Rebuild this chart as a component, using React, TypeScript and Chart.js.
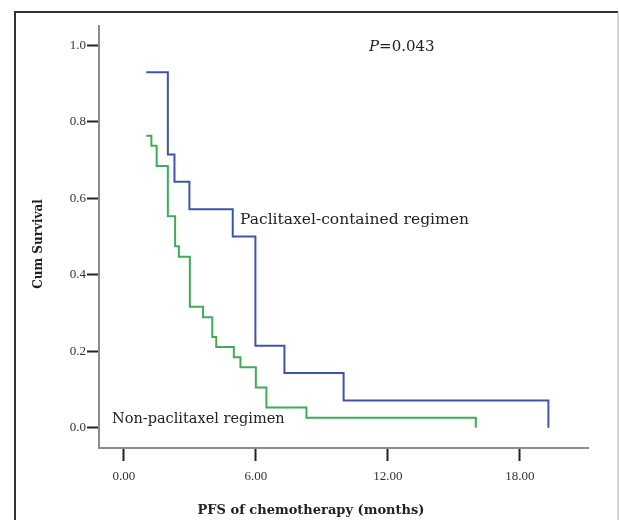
import React, { useEffect, useRef } from "react";
import { Chart, registerables } from "chart.js";

Chart.register(...registerables);

// ---- data ----
const paclitaxelTimes = [1.02, 2.0, 2.3, 2.98, 4.95, 5.98, 7.3, 9.99, 19.3];
const paclitaxelSurvival = [0.929, 0.714, 0.643, 0.571, 0.5, 0.214, 0.143, 0.071, 0.0];
const nonPaclitaxelTimes = [1.02, 1.25, 1.49, 2.0, 2.33, 2.5, 3.0, 3.6, 4.02, 4.2, 5.0, 5.3, 6.0, 6.48, 8.3, 16.0];
const nonPaclitaxelSurvival = [0.763, 0.737, 0.684, 0.553, 0.474, 0.447, 0.316, 0.289, 0.237, 0.211, 0.184, 0.158, 0.105, 0.053, 0.026, 0.0];
const xTickValues = [0, 6, 12, 18];
const yTickValues = [0, 0.2, 0.4, 0.6, 0.8, 1.0];
const seriesLabels = ["Paclitaxel-contained regimen", "Non-paclitaxel regimen"];
const pValueText = "=0.043";
const xTitle = "PFS of chemotherapy (months)";
const yTitle = "Cum Survival";

const SERIF = "'DejaVu Serif', 'Liberation Serif', serif";
const TICKFONT = "'Liberation Serif', serif";

const annotationPlugin = {
  id: "kmAnnotations",
  beforeDraw(chart: any) {
    const ctx = chart.ctx;
    ctx.save();
    ctx.fillStyle = "#ffffff";
    ctx.fillRect(0, 0, chart.width, chart.height);
    // frame
    ctx.strokeStyle = "#333";
    ctx.lineWidth = 2;
    ctx.beginPath();
    ctx.moveTo(15, 530);
    ctx.lineTo(15, 12);
    ctx.lineTo(618, 12);
    ctx.stroke();
    ctx.strokeStyle = "#aaa";
    ctx.lineWidth = 1;
    ctx.beginPath();
    ctx.moveTo(618, 12);
    ctx.lineTo(618, 530);
    ctx.stroke();
    ctx.restore();
  },
  afterDraw(chart: any) {
    const ctx = chart.ctx;
    ctx.save();
    ctx.fillStyle = "#222";
    ctx.textBaseline = "alphabetic";
    ctx.textAlign = "left";
    ctx.font = `15.5px ${SERIF}`;
    ctx.fillText(seriesLabels[0], 240, 224);
    ctx.font = `14.5px ${SERIF}`;
    ctx.fillText(seriesLabels[1], 112, 423);
    // P value
    ctx.font = `italic 15px ${SERIF}`;
    ctx.fillText("P", 369, 51);
    const pw = ctx.measureText("P").width;
    ctx.font = `15px ${SERIF}`;
    ctx.fillText(pValueText, 369 + pw, 51);
    // axis titles
    ctx.font = `bold 13px ${SERIF}`;
    ctx.textAlign = "center";
    ctx.fillText(xTitle, 311, 514);
    ctx.font = `bold 12px ${SERIF}`;
    ctx.translate(39, 244);
    ctx.rotate(-Math.PI / 2);
    ctx.textBaseline = "middle";
    ctx.fillText(yTitle, 0, 0);
    ctx.restore();
  },
};

export default function App() {
  const ref = useRef<HTMLCanvasElement | null>(null);
  useEffect(() => {
    if (!ref.current) return;
    const chart = new Chart(ref.current, {
      type: "line",
      data: {
        datasets: [
          {
            label: seriesLabels[0],
            data: paclitaxelTimes.map((t, i) => ({ x: t, y: paclitaxelSurvival[i] })),
            borderColor: "#3d55a8",
            borderWidth: 2,
            stepped: true,
            pointRadius: 0,
            fill: false,
          },
          {
            label: seriesLabels[1],
            data: nonPaclitaxelTimes.map((t, i) => ({ x: t, y: nonPaclitaxelSurvival[i] })),
            borderColor: "#3fac58",
            borderWidth: 2,
            stepped: true,
            pointRadius: 0,
            fill: false,
          },
        ],
      },
      options: {
        animation: false,
        responsive: false,
        layout: { padding: { top: 26, right: 31, left: 0, bottom: 0 } },
        plugins: { legend: { display: false }, tooltip: { enabled: false } },
        scales: {
          x: {
            type: "linear",
            min: -1.13,
            max: 21.1,
            afterBuildTicks: (s: any) => {
              s.ticks = xTickValues.map((v) => ({ value: v }));
            },
            afterFit: (s: any) => {
              s.height = 72;
            },
            ticks: {
              callback: (v: any) => Number(v).toFixed(2),
              font: { family: TICKFONT, size: 13 },
              color: "#333",
              padding: 8,
              maxRotation: 0,
              autoSkip: false,
            },
            grid: {
              drawOnChartArea: false,
              drawTicks: true,
              tickLength: 13,
              tickWidth: 2,
              tickColor: "#222",
            },
            border: { display: true, color: "#8c8c8c", width: 2 },
          },
          y: {
            type: "linear",
            min: -0.053,
            max: 1.05,
            afterBuildTicks: (s: any) => {
              s.ticks = yTickValues.map((v) => ({ value: v }));
            },
            afterFit: (s: any) => {
              s.width = 99;
            },
            ticks: {
              callback: (v: any) => Number(v).toFixed(1),
              font: { family: TICKFONT, size: 13 },
              color: "#333",
              padding: 1,
              autoSkip: false,
            },
            grid: {
              drawOnChartArea: false,
              drawTicks: true,
              tickLength: 12,
              tickWidth: 2,
              tickColor: "#222",
            },
            border: { display: true, color: "#8c8c8c", width: 2 },
          },
        },
      },
      plugins: [annotationPlugin],
    });
    return () => chart.destroy();
  }, []);
  return (
    <div style={{ position: "absolute", left: 0, top: 0, width: 619, height: 520 }}>
      <canvas ref={ref} width={619} height={520} style={{ display: "block" }} />
    </div>
  );
}
